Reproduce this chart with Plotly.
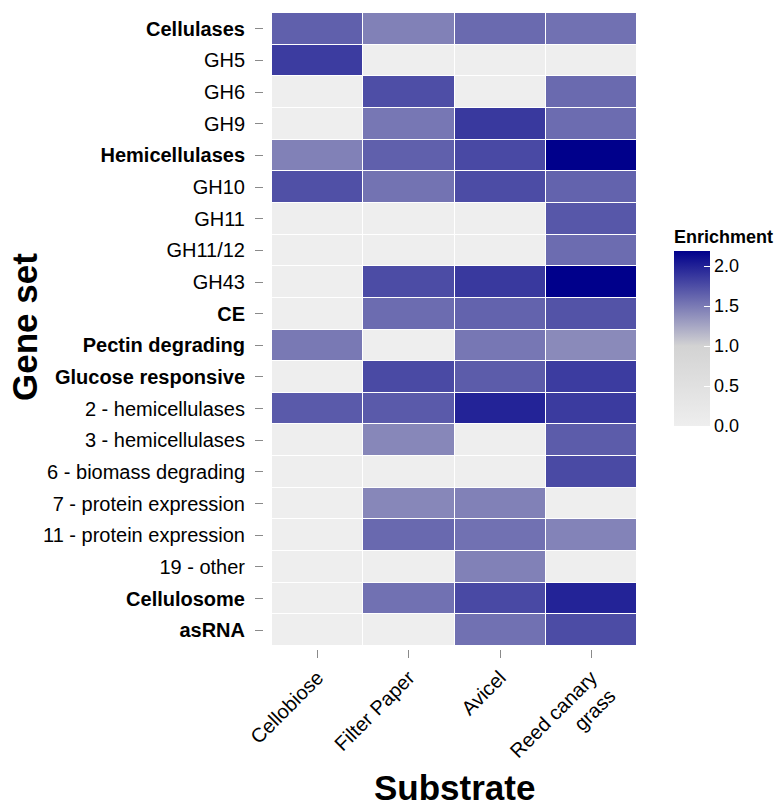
import plotly.graph_objects as go

gene_sets = ["Cellulases", "GH5", "GH6", "GH9", "Hemicellulases", "GH10", "GH11",
             "GH11/12", "GH43", "CE", "Pectin degrading", "Glucose responsive",
             "2 - hemicellulases", "3 - hemicellulases", "6 - biomass degrading",
             "7 - protein expression", "11 - protein expression", "19 - other",
             "Cellulosome", "asRNA"]
bold_sets = {"Cellulases", "Hemicellulases", "CE", "Pectin degrading",
             "Glucose responsive", "Cellulosome", "asRNA"}
substrates = ["Cellobiose", "Filter Paper", "Avicel", "Reed canary<br>grass"]

cellobiose = [1.65, 1.85, 0, 0, 1.46, 1.74, 0, 0, 0, 0, 1.51, 0, 1.68, 0, 0, 0, 0, 0, 0, 0]
filter_paper = [1.46, 0, 1.75, 1.52, 1.65, 1.54, 0, 0, 1.76, 1.58, 0, 1.77, 1.68, 1.43, 0, 1.43, 1.60, 0, 1.55, 0]
avicel = [1.59, 0, 0, 1.87, 1.78, 1.76, 0, 0, 1.87, 1.63, 1.52, 1.67, 1.99, 0, 0, 1.46, 1.55, 1.46, 1.78, 1.55]
reed_canary = [1.55, 0, 1.59, 1.58, 2.19, 1.63, 1.70, 1.58, 2.19, 1.72, 1.41, 1.85, 1.86, 1.67, 1.77, 0, 1.45, 0, 1.99, 1.76]

zmax = 2.19
z = [list(r) for r in zip(cellobiose, filter_paper, avicel, reed_canary)]

ticktext = [f"<b>{g}</b>" if g in bold_sets else g for g in gene_sets]

font = "Liberation Sans, Arial, sans-serif"
W, H = 780, 808
L, R, T, B = 263, 143, 13, 159
pw, ph = W - L - R, H - T - B

fig = go.Figure(go.Heatmap(
    z=z, x=substrates, y=gene_sets,
    zmin=0, zmax=zmax,
    colorscale=[[0, "#EEEEEE"], [1 / zmax, "#D3D3D3"], [1, "#00008B"]],
    xgap=1, ygap=1,
    colorbar=dict(
        title=dict(text="<b>Enrichment</b>", side="top", font=dict(size=18, color="black", family=font)),
        thickness=36, thicknessmode="pixels",
        len=200, lenmode="pixels",
        x=(674 - L) / pw, xanchor="left", xpad=0,
        y=(H - B - 426) / ph, yanchor="bottom", ypad=0,
        outlinewidth=0,
        tickvals=[0, 0.5, 1, 1.5, 2], ticktext=["0.0", "0.5", "1.0", "1.5", "2.0"],
        ticks="inside", ticklen=6, tickcolor="white",
        tickfont=dict(size=18, color="black", family=font),
    ),
))

fig.update_layout(
    width=W, height=H,
    margin=dict(l=L, r=R, t=T, b=B, autoexpand=False),
    paper_bgcolor="white", plot_bgcolor="white",
    font=dict(family=font, color="black"),
    xaxis=dict(domain=[9 / pw, 1], anchor="free", position=0,
               tickangle=-45, ticks="outside", ticklen=8, tickcolor="#8a8a8a",
               tickfont=dict(size=20, color="black"), showgrid=False, zeroline=False,
               showline=False),
    yaxis=dict(domain=[3 / ph, 1], anchor="free", position=0,
               autorange="reversed", tickmode="array", tickvals=gene_sets, ticktext=ticktext,
               ticks="outside", ticklen=8, tickcolor="#8a8a8a",
               tickfont=dict(size=20, color="black"), showgrid=False, zeroline=False,
               showline=False, ticklabelstandoff=6),
    annotations=[
        dict(text="<b>Gene set</b>", xref="paper", yref="paper",
             x=(24 - L) / pw, y=(H - B - 327) / ph, textangle=-90, showarrow=False,
             font=dict(size=35, color="black", family=font), xanchor="center", yanchor="middle"),
        dict(text="<b>Substrate</b>", xref="paper", yref="paper",
             x=(454 - L) / pw, y=(H - B - 787) / ph, showarrow=False,
             font=dict(size=35, color="black", family=font), xanchor="center", yanchor="middle"),
    ],
)

fig.write_html("out.html")
